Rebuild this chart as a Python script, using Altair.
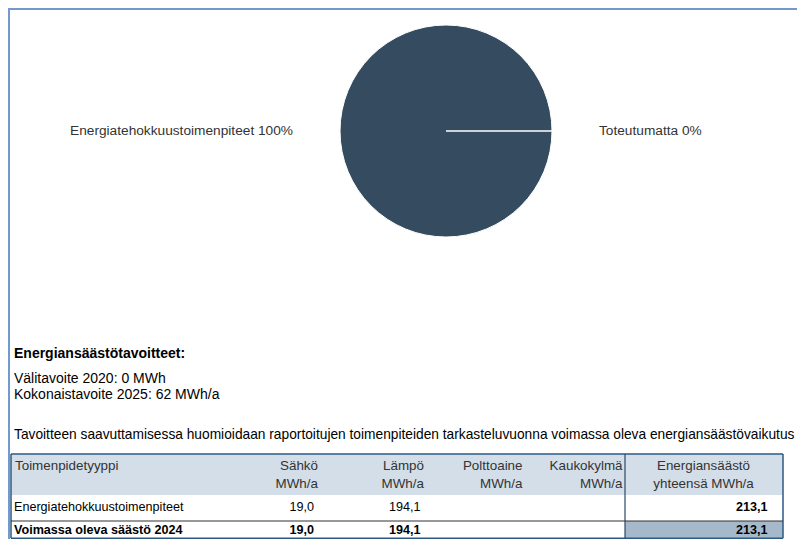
import math
import altair as alt
import pandas as pd

# ---------------- data ----------------
pie_categories = ["Energiatehokkuustoimenpiteet", "Toteutumatta"]
pie_shares = [100, 0]

goal_title = "Energiansäästötavoitteet:"
goal_lines = ["Välitavoite 2020: 0 MWh", "Kokonaistavoite 2025: 62 MWh/a"]
note_text = ("Tavoitteen saavuttamisessa huomioidaan raportoitujen toimenpiteiden "
             "tarkasteluvuonna voimassa oleva energiansäästövaikutus")

table_headers = ["Toimenpidetyyppi", "Sähkö\nMWh/a", "Lämpö\nMWh/a",
                 "Polttoaine\nMWh/a", "Kaukokylmä\nMWh/a", "Energiansäästö\nyhteensä MWh/a"]
row_labels = ["Energiatehokkuustoimenpiteet", "Voimassa oleva säästö 2024"]
sahko = [19.0, 19.0]
lampo = [194.1, 194.1]
polttoaine = [None, None]
kaukokylma = [None, None]
yhteensa = [213.1, 213.1]

# ---------------- layout / style ----------------
W, H = 789, 531
FONT = "Liberation Sans"
PIE_COLOR = "#354b5f"
PIE_CX, PIE_CY, PIE_R, LABEL_R = 438, 123, 106, 153
FRAME_COLOR = "#7399cd"
BORDER_COLOR = "#2d5a84"
HEADER_BG = "#d4dee8"
TOTAL_BG = "#a6b9cb"

T_LEFT, T_RIGHT, T_TOP, T_HEAD_BOTTOM, T_ROW_DIV, T_BOTTOM, T_SEP = 3, 775, 446, 487, 513, 530.2, 617
header_x = [7, 310, 416, 514.5, 614.5, 695.5]
header_align = ["left", "right", "right", "right", "right", "center"]
value_x = [6, 306, 412.5, 510.5, 610.5, 759.5]
HEADER_Y = 461.5
ROW_Y = [503, 526.3]


def fmt(v):
    return "" if v is None else f"{v:.1f}".replace(".", ",")


def px(field):
    return alt.X(f"{field}:Q", scale=None, axis=None)


def py(field):
    return alt.Y(f"{field}:Q", scale=None, axis=None)


def text_layer(df, align, size, weight="normal", color="#000000"):
    return alt.Chart(df).mark_text(
        align=align, baseline="alphabetic", font=FONT, fontSize=size,
        fontWeight=weight, color=color, lineBreak="\n", lineHeight=18,
    ).encode(x=px("x"), y=py("y"), text="text:N")


# ---------------- frame ----------------
frame_top = alt.Chart(pd.DataFrame({"a": [0]})).mark_rule(color=FRAME_COLOR, strokeWidth=2).encode(
    x=alt.value(0), x2=alt.value(W), y=alt.value(1))
frame_left = alt.Chart(pd.DataFrame({"a": [0]})).mark_rule(color=FRAME_COLOR, strokeWidth=2).encode(
    y=alt.value(0), y2=alt.value(H), x=alt.value(1))

# ---------------- pie ----------------
pie_df = pd.DataFrame({"cat": pie_categories, "share": pie_shares, "ord": list(range(len(pie_categories)))})
theta = alt.Theta("share:Q", stack=True,
                  scale=alt.Scale(range=[math.pi / 2, math.pi / 2 + 2 * math.pi]))
pie = alt.Chart(pie_df).mark_arc(radius=PIE_R, color=PIE_COLOR, stroke="white", strokeWidth=1).encode(
    theta=theta, order=alt.Order("ord:Q"), x=alt.value(PIE_CX), y=alt.value(PIE_CY))

label_base = alt.Chart(pie_df).transform_calculate(
    label="datum.cat + ' ' + datum.share + '%'")
label_left = label_base.transform_filter(alt.datum.ord == 0).mark_text(
    radius=LABEL_R, align="right", baseline="middle", font=FONT, fontSize=13.7, color="#333333"
).encode(theta=theta, order=alt.Order("ord:Q"), text="label:N", x=alt.value(PIE_CX), y=alt.value(PIE_CY))
label_right = label_base.transform_filter(alt.datum.ord == 1).mark_text(
    radius=LABEL_R, align="left", baseline="middle", font=FONT, fontSize=13.7, color="#333333"
).encode(theta=theta, order=alt.Order("ord:Q"), text="label:N", x=alt.value(PIE_CX), y=alt.value(PIE_CY))

# ---------------- text block ----------------
title_df = pd.DataFrame({"text": [goal_title], "x": [6], "y": [350]})
lines_df = pd.DataFrame({"text": goal_lines, "x": [6, 6], "y": [375, 391]})
note_df = pd.DataFrame({"text": [note_text], "x": [6], "y": [431]})
title_layer = text_layer(title_df, "left", 14, weight="bold")
lines_layer = text_layer(lines_df, "left", 14)
note_layer = text_layer(note_df, "left", 13.75)

# ---------------- table ----------------
rect_df = pd.DataFrame({
    "x": [T_LEFT, T_SEP], "x2": [T_RIGHT, T_RIGHT],
    "y": [T_TOP, T_ROW_DIV], "y2": [T_HEAD_BOTTOM, T_BOTTOM],
    "c": [HEADER_BG, TOTAL_BG],
})
rects = alt.Chart(rect_df).mark_rect().encode(
    x=px("x"), x2="x2:Q", y=py("y"), y2="y2:Q", color=alt.Color("c:N", scale=None))

rule_df = pd.DataFrame({
    "x": [T_LEFT, T_LEFT, T_LEFT, T_RIGHT, T_SEP, T_LEFT],
    "x2": [T_RIGHT, T_RIGHT, T_LEFT, T_RIGHT, T_SEP, T_RIGHT],
    "y": [T_TOP, T_BOTTOM, T_TOP, T_TOP, T_TOP, T_ROW_DIV],
    "y2": [T_TOP, T_BOTTOM, T_BOTTOM, T_BOTTOM, T_BOTTOM, T_ROW_DIV],
    "c": [BORDER_COLOR] * 4 + ["#2b4964", "#333333"],
    "w": [1.5, 1.5, 1.5, 1.5, 1.2, 1.2],
})
rules = alt.Chart(rule_df).mark_rule().encode(
    x=px("x"), x2="x2:Q", y=py("y"), y2="y2:Q",
    color=alt.Color("c:N", scale=None), strokeWidth=alt.StrokeWidth("w:Q", scale=None))

header_layers = []
for align in ["left", "right", "center"]:
    sub = pd.DataFrame([{"text": t, "x": x, "y": HEADER_Y}
                        for t, x, a in zip(table_headers, header_x, header_align) if a == align])
    header_layers.append(text_layer(sub, align, 13.4, color="#333333"))

columns = [sahko, lampo, polttoaine, kaukokylma]
body_layers = []
for r, (name, y) in enumerate(zip(row_labels, ROW_Y)):
    weight = "bold" if r == len(row_labels) - 1 else "normal"
    left_df = pd.DataFrame({"text": [name], "x": [value_x[0]], "y": [y]})
    right_df = pd.DataFrame({"text": [fmt(col[r]) for col in columns],
                             "x": value_x[1:5], "y": [y] * len(columns)})
    total_df = pd.DataFrame({"text": [fmt(yhteensa[r])], "x": [value_x[5]], "y": [y]})
    body_layers.append(text_layer(left_df, "left", 12.6, weight=weight))
    body_layers.append(text_layer(right_df, "right", 12.6, weight=weight))
    body_layers.append(text_layer(total_df, "right", 12.6, weight="bold"))

chart = alt.layer(
    frame_top, frame_left, pie, label_left, label_right,
    title_layer, lines_layer, note_layer, rects, rules, *header_layers, *body_layers,
).properties(
    width=W, height=H, padding=0, autosize=alt.AutoSizeParams(type="none"),
    background="white",
).configure_view(stroke=None)

chart.save("out.html", embed_options={"renderer": "svg", "actions": False})
